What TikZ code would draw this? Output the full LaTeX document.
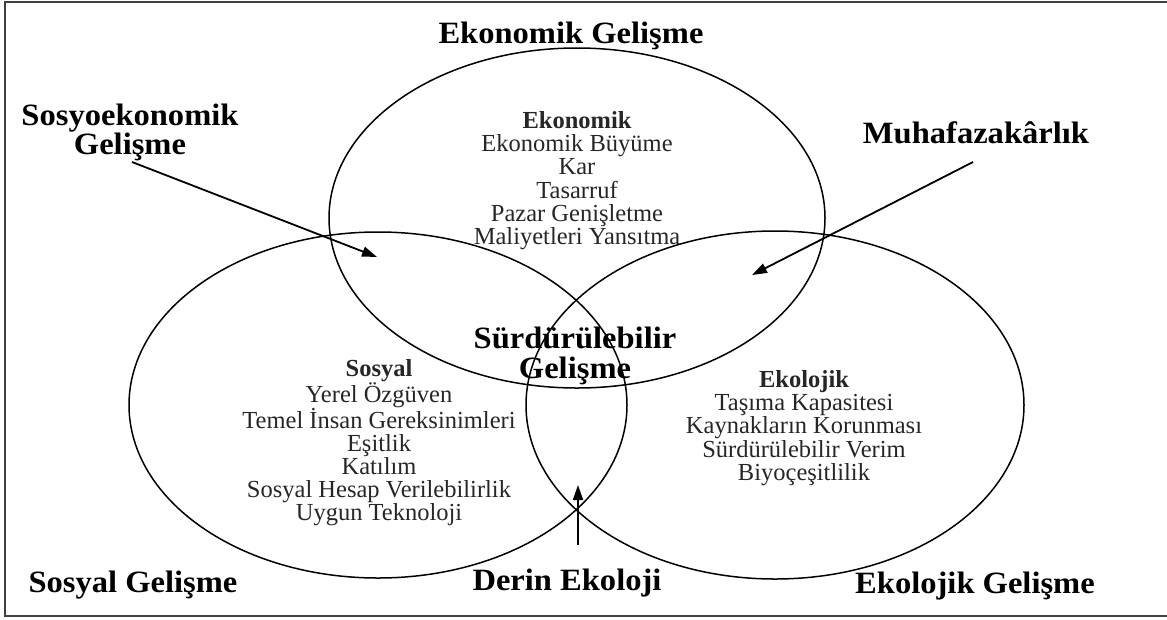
\documentclass[tikz,border=0pt]{standalone}
\usepackage{fontspec}
\setmainfont{Liberation Serif}[FakeStretch=1.05]
\newfontfamily\smallserif{Liberation Serif}[FakeStretch=1.0]
\usetikzlibrary{arrows.meta}
\begin{document}
\begin{tikzpicture}[x=1pt,y=-1pt,
  big/.style={font=\fontsize{31}{30}\selectfont\bfseries, inner sep=0pt, align=center},
  small/.style={font=\smallserif\fontsize{24.5}{23.3}\selectfont, inner sep=0pt, align=center, text=black!85},
  venn/.style={line width=1.5pt, draw=black},
  arr/.style={line width=1.8pt, -{Triangle[length=15pt,width=10pt]}},
  frameline/.style={line width=2pt, draw=black!75}]
\useasboundingbox (0,0) rectangle (1167,619);
\draw[frameline] (1167,2) -- (5,2) -- (5,616) -- (1167,616);
% circles
\draw[venn] (577,218) ellipse [x radius=248, y radius=170];
\draw[venn] (378,405) ellipse [x radius=249, y radius=173];
\draw[venn] (775,405) ellipse [x radius=249, y radius=174];
% big labels
\node[big, anchor=base] (ekg) at (571,43) {Ekonomik Gelişme};
\node[big, anchor=north, font=\fontsize{31}{26}\selectfont\bfseries] (sosyo) at (130,104) {Sosyoekonomik\\Gelişme};
\node[big, anchor=base] (muh) at (976,143) {Muhafazakârlık};
\node[big, anchor=north] (sg) at (575,327) {Sürdürülebilir\\Gelişme};
\node[big, anchor=base] (sosg) at (133,592) {Sosyal Gelişme};
\node[big, anchor=base] (derin) at (567,590) {Derin Ekoloji};
\node[big, anchor=base] (ekog) at (975,593) {Ekolojik Gelişme};
% small blocks
\node[small, anchor=north] (eko) at (577,111) {\textbf{Ekonomik}\\Ekonomik Büyüme\\Kar\\Tasarruf\\Pazar Genişletme\\Maliyetleri Yansıtma};
\node[small, anchor=north, font=\smallserif\fontsize{24.5}{22.8}\selectfont] (sos) at (379,359) {\textbf{Sosyal}\\Yerel Özgüven\\Temel İnsan Gereksinimleri\\Eşitlik\\Katılım\\Sosyal Hesap Verilebilirlik\\Uygun Teknoloji};
\node[small, anchor=north] (ekol) at (804,370) {\textbf{Ekolojik}\\Taşıma Kapasitesi\\Kaynakların Korunması\\Sürdürülebilir Verim\\Biyoçeşitlilik};
% arrows
\coordinate (s1) at (132,162); \coordinate (t1) at (377,257);
\coordinate (s2) at (973,162); \coordinate (t2) at (752,275);
\coordinate (s3) at (578,545); \coordinate (t3) at (578,485);
\draw[arr] (s1) -- (t1);
\draw[arr] (s2) -- (t2);
\draw[arr] (s3) -- (t3);
\end{tikzpicture}
\end{document}
